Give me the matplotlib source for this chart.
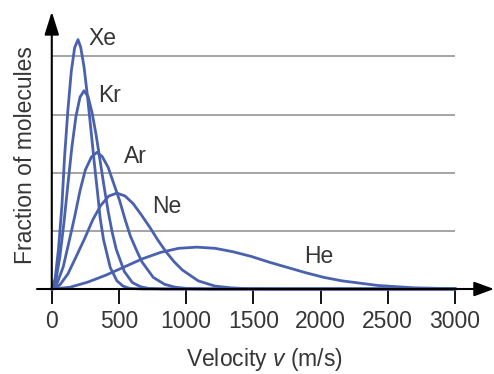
import matplotlib.pyplot as plt

plt.rcParams['font.family'] = ['Liberation Sans', 'DejaVu Sans']
plt.rcParams['mathtext.fontset'] = 'custom'
plt.rcParams['mathtext.it'] = 'Liberation Sans:italic'
plt.rcParams['mathtext.rm'] = 'Liberation Sans'

# velocities (m/s) and relative fraction of molecules
xe_v = [0, 25, 50, 75, 95, 120, 145, 170, 195, 215, 240, 265, 290, 315, 340, 360,
        385, 435, 485, 530, 580, 675, 3000]
xe_f = [0, 0.18, 0.69, 1.42, 2.27, 3.08, 3.74, 4.15, 4.29, 4.16, 3.82, 3.33, 2.77,
        2.20, 1.67, 1.22, 0.85, 0.37, 0.14, 0.05, 0.01, 0, 0]

kr_v = [0, 30, 60, 90, 120, 150, 180, 210, 240, 270, 300, 330, 360, 390, 420, 450,
        480, 540, 600, 660, 720, 840, 3000]
kr_f = [0, 0.14, 0.55, 1.13, 1.80, 2.45, 2.97, 3.30, 3.41, 3.31, 3.03, 2.65, 2.20,
        1.75, 1.33, 0.97, 0.68, 0.30, 0.11, 0.04, 0.01, 0, 0]

ar_v = [0, 40, 85, 125, 170, 210, 250, 295, 335, 375, 420, 460, 505, 545, 585, 630,
        670, 755, 840, 920, 1005, 1175, 3000]
ar_f = [0, 0.10, 0.38, 0.78, 1.24, 1.69, 2.05, 2.27, 2.35, 2.28, 2.09, 1.82, 1.52,
        1.20, 0.91, 0.67, 0.47, 0.20, 0.08, 0.03, 0.01, 0, 0]

ne_v = [0, 60, 120, 180, 245, 305, 365, 425, 485, 545, 605, 665, 730, 790, 850, 910,
        970, 1090, 1215, 1335, 1455, 1700, 3000]
ne_f = [0, 0.07, 0.26, 0.55, 0.87, 1.19, 1.44, 1.60, 1.65, 1.60, 1.47, 1.28, 1.06,
        0.84, 0.64, 0.47, 0.33, 0.14, 0.05, 0.02, 0.005, 0, 0]

he_v = [0, 135, 270, 405, 540, 675, 810, 945, 1080, 1215, 1350, 1485, 1620, 1755,
        1890, 2025, 2160, 2430, 2700, 3000]
he_f = [0, 0.03, 0.12, 0.24, 0.38, 0.52, 0.63, 0.70, 0.72, 0.70, 0.64, 0.56, 0.46,
        0.37, 0.28, 0.20, 0.14, 0.06, 0.02, 0.005]

gas_names = ['Xe', 'Kr', 'Ar', 'Ne', 'He']
label_pos = [(374, 4.20), (430, 3.22), (623, 2.17), (858, 1.31), (1985, 0.45)]
grid_levels = [1, 2, 3, 4]
x_ticks = [0, 500, 1000, 1500, 2000, 2500, 3000]

blue = '#4a62ad'
text_col = '#363636'

fig = plt.figure(figsize=(4.94, 3.74), dpi=100)
ax = fig.add_axes([37 / 494, 85 / 374, 457 / 494, 277.3 / 374])
ax.set_xlim(-110, 3291)
ax.set_ylim(0, 4.77)
for s in ax.spines.values():
    s.set_visible(False)

ax.hlines(grid_levels, 0, 3000, color='#8c8c8c', lw=1.1, zorder=1)

for v, f in [(xe_v, xe_f), (kr_v, kr_f), (ar_v, ar_f), (ne_v, ne_f), (he_v, he_f)]:
    ax.plot(v, f, color=blue, lw=2.0, clip_on=False, zorder=3,
            solid_joinstyle='round')

for name, (x, y) in zip(gas_names, label_pos):
    ax.text(x, y, name, ha='center', va='baseline', fontsize=16.5, color=text_col)

# axes arrows
ax.annotate('', xy=(3291, 0), xytext=(-110, 0), annotation_clip=False,
            arrowprops=dict(arrowstyle='-|>,head_length=0.6,head_width=0.22',
                            color='black', lw=1.5, mutation_scale=20,
                            shrinkA=0, shrinkB=0), zorder=4)
ax.annotate('', xy=(0, 4.77), xytext=(0, 0), annotation_clip=False,
            arrowprops=dict(arrowstyle='-|>,head_length=0.7,head_width=0.22',
                            color='black', lw=1.5, mutation_scale=20,
                            shrinkA=0, shrinkB=0), zorder=4)

ax.set_xticks(x_ticks)
ax.set_xticklabels([str(t) for t in x_ticks])
ax.set_yticks([])
ax.tick_params(axis='x', length=11, width=1.3, color='black', pad=4,
               labelsize=16.5, labelcolor=text_col)

fig.text(264 / 494, 8 / 374, 'Velocity $\\it{v}$ (m/s)', ha='center',
         va='baseline', fontsize=16.5, color=text_col)
fig.text(26 / 494, 1 - 155.5 / 374, 'Fraction of molecules', rotation=90,
         ha='center', va='center', fontsize=16.5, color=text_col)

fig.savefig('out.png', dpi=100)
